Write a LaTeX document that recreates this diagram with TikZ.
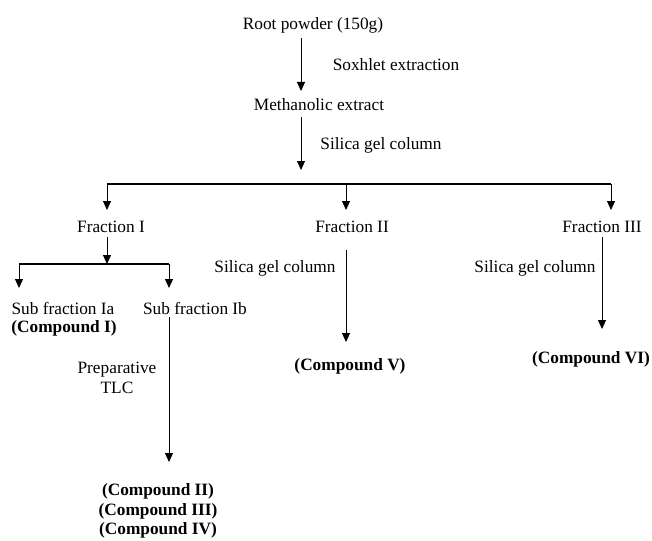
\documentclass[tikz,border=0pt]{standalone}
\usepackage{fontspec}
\setmainfont{Liberation Serif}
\usetikzlibrary{arrows.meta}

\begin{document}
\begin{tikzpicture}[x=1pt,y=-1pt,>={Triangle[width=8pt,length=9pt]},
  font=\fontsize{17.3}{20}\selectfont,
  every node/.style={inner sep=0pt},
  flow/.style={->,line width=0.9pt},
  rail/.style={line width=1.3pt},
  cmpd/.style={font=\fontsize{17.3}{19.5}\selectfont\bfseries}]
\useasboundingbox (0,0) rectangle (652,540);

% extraction
\node (root) at (313,25) {Root powder (150g)};
\node (soxh) at (396,65) {Soxhlet extraction};
\node (meth) at (319,105) {Methanolic extract};
\node (sgc1) at (381,145) {Silica gel column};
\coordinate (r0) at (301,38);
\coordinate (r1) at (301,91);
\coordinate (m0) at (301,117);
\coordinate (m1) at (301,170);
\draw[flow] (r0) -- (r1);
\draw[flow] (m0) -- (m1);

% fractions
\node (fr1) at (111,227) {Fraction I};
\node (fr2) at (352,227) {Fraction II};
\node (fr3) at (602,227) {Fraction III};
\coordinate (b1) at (107,184);
\coordinate (b2) at (346,184);
\coordinate (b3) at (611,184);
\draw[rail] (b1) -- (b3);
\foreach \b in {b1,b2,b3} {
  \draw[flow] (\b) -- ++(0,26);
}

% fraction I
\node (suba) at (63,308) {Sub fraction Ia};
\node[cmpd] (cpa) at (64,328) {(Compound I)};
\node (subb) at (195,308) {Sub fraction Ib};
\node[align=center] (prep) at (117,378) {Preparative\\TLC};
\node[cmpd,align=center] (cpb) at (158,511) {(Compound II)\\(Compound III)\\(Compound IV)};
\coordinate (f0) at (107,237);
\coordinate (f1) at (107,264);
\coordinate (ja) at (19,264);
\coordinate (jb) at (169,264);
\draw[flow] (f0) -- (f1);
\draw[rail] (ja) -- (jb);
\draw[flow] (ja) -- ++(0,24);
\draw[flow] (jb) -- ++(0,24);
\coordinate (p0) at (169,317);
\coordinate (p1) at (169,462);
\draw[flow] (p0) -- (p1);

% fraction II
\node (sgc2) at (275,268) {Silica gel column};
\node[cmpd] (cpv) at (350,366) {(Compound V)};
\coordinate (g0) at (346,250);
\coordinate (g1) at (346,342);
\draw[flow] (g0) -- (g1);

% fraction III
\node (sgc3) at (535,268) {Silica gel column};
\node[cmpd] (cpvi) at (591,359) {(Compound VI)};
\coordinate (h0) at (602,237);
\coordinate (h1) at (602,329);
\draw[flow] (h0) -- (h1);
\end{tikzpicture}
\end{document}
